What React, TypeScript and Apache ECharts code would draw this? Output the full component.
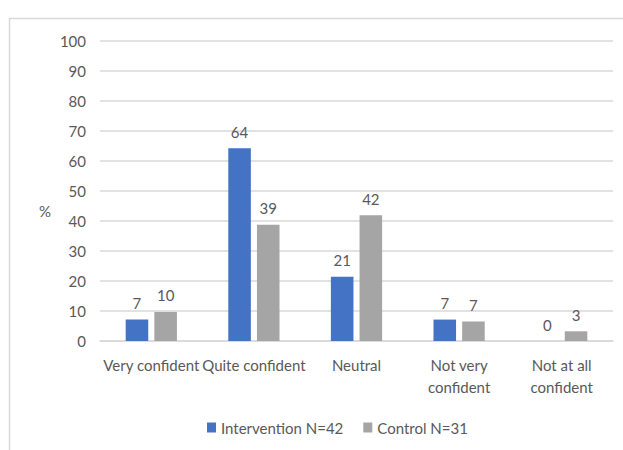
import React, { useEffect, useRef } from "react";
import * as echarts from "echarts";

const categories = ["Very confident", "Quite confident", "Neutral", "Not very\nconfident", "Not at all\nconfident"];
const interventionValues = [7.14, 64.29, 21.43, 7.14, 0];
const controlValues = [9.68, 38.71, 41.94, 6.5, 3.23];
const seriesNames = ["Intervention N=42", "Control N=31"];
const FONT = "Lato, 'Open Sans', sans-serif";

export default function App() {
  const ref = useRef<HTMLDivElement>(null);
  useEffect(() => {
    const chart = echarts.init(ref.current!, null, { renderer: "svg" });
    const labelCfg = {
      show: true,
      position: "top",
      distance: 9,
      color: "#595959",
      fontSize: 15,
      fontFamily: FONT,
      formatter: (p: any) => String(Math.round(p.value)),
    };
    chart.setOption({
      animation: false,
      textStyle: { fontFamily: FONT },
      graphic: [
        {
          type: "rect",
          shape: { x: 9.5, y: 18.5, width: 700, height: 500 },
          style: { fill: "none", stroke: "#d9d9d9", lineWidth: 1.5 },
          silent: true,
        },
        {
          type: "text",
          left: 39,
          top: 203,
          style: { text: "%", fontSize: 15, fill: "#595959", fontFamily: FONT },
        },
      ],
      legend: {
        bottom: 10,
        left: 202,
        itemWidth: 9,
        itemHeight: 10,
        itemGap: 20,
        icon: "rect",
        textStyle: { color: "#595959", fontSize: 15, fontFamily: FONT },
        data: seriesNames,
      },
      grid: { left: 100, right: 10, top: 41, bottom: 109, containLabel: false },
      xAxis: {
        type: "category",
        data: categories,
        axisLine: { show: true, lineStyle: { color: "#d9d9d9", width: 1.5 } },
        axisTick: { show: false },
        axisLabel: {
          color: "#595959",
          fontSize: 15,
          fontFamily: FONT,
          margin: 13,
          lineHeight: 22,
          interval: 0,
        },
      },
      yAxis: {
        type: "value",
        min: 0,
        max: 100,
        interval: 10,
        axisLine: { show: false },
        axisTick: { show: false },
        axisLabel: { color: "#595959", fontSize: 15, fontFamily: FONT, margin: 14 },
        splitLine: { lineStyle: { color: "#d9d9d9", width: 1.5 } },
      },
      series: [
        {
          name: seriesNames[0],
          type: "bar",
          data: interventionValues,
          barWidth: "22%",
          barGap: "27%",
          itemStyle: { color: "#4472C4" },
          label: labelCfg,
        },
        {
          name: seriesNames[1],
          type: "bar",
          data: controlValues,
          barWidth: "22%",
          itemStyle: { color: "#A5A5A5" },
          label: labelCfg,
        },
      ],
    });
    return () => chart.dispose();
  }, []);
  return (
    <div
      ref={ref}
      style={{ position: "fixed", left: 0, top: 0, width: 623, height: 450, background: "#fff" }}
    />
  );
}
